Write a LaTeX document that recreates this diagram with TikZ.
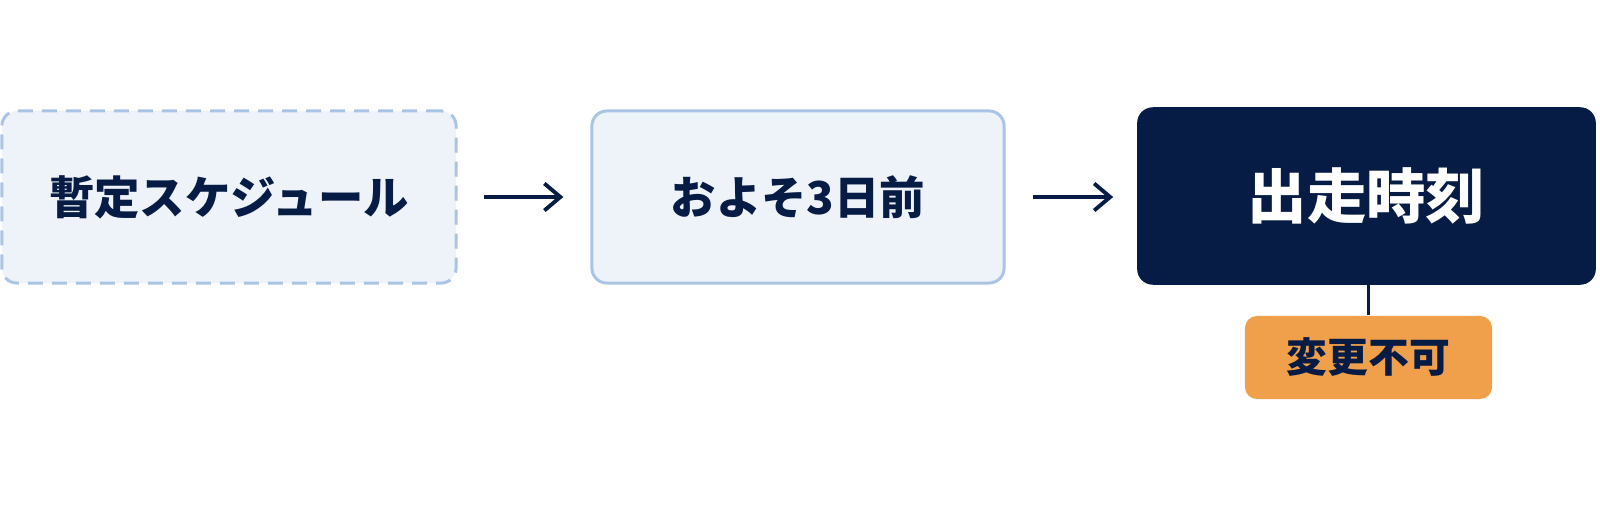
\documentclass[tikz,border=0pt]{standalone}
\usepackage{fontspec}
\setmainfont{Noto Sans CJK JP}
\usetikzlibrary{arrows.meta}
\definecolor{navy}{HTML}{061C45}
\definecolor{paleblue}{HTML}{EEF3FA}
\definecolor{edgeblue}{HTML}{AAC4E4}
\definecolor{amber}{HTML}{F0A04B}

\begin{document}
\begin{tikzpicture}[x=0.01cm, y=-0.01cm,
    etapa/.style={draw=edgeblue, line width=0.85pt, rounded corners=0.15cm, fill=paleblue, inner sep=0pt,
        minimum height=1.72cm, text=navy, font=\bfseries\fontsize{12.9}{15}\selectfont},
    seta/.style={draw=navy, line width=1.1pt, -{Straight Barb[length=1.6mm, width=2.7mm]}}]
    % Do provisório ao horário de largada
    \useasboundingbox (0,0) rectangle (1600,509);
    \node[etapa, dash pattern=on 0.15cm off 0.09cm, minimum width=4.54cm] (prov) at (229,197) {暫定スケジュール};
    \node[etapa, minimum width=4.12cm] (tres) at (798,197) {およそ3日前};
    \node[draw=navy, fill=navy, rounded corners=0.15cm, inner sep=0pt, minimum width=4.57cm, minimum height=1.76cm,
        text=white, font=\bfseries\fontsize{16.9}{19}\selectfont] (hora) at (1366.5,196) {出走時刻};
    \node[fill=amber, rounded corners=0.12cm, inner sep=0pt, minimum width=2.47cm, minimum height=0.83cm,
        text=navy, font=\bfseries\fontsize{11.6}{13}\selectfont] (fixo) at (1368.5,357.5) {変更不可};

    \draw[seta, shorten <=0.26cm, shorten >=0.27cm] (prov.east) -- (tres.west);
    \draw[seta, shorten <=0.27cm, shorten >=0.24cm] (tres.east) -- (hora.west |- tres.east);
    \draw[navy, line width=1.1pt] (fixo.north |- hora.south) -- (fixo.north);
\end{tikzpicture}
\end{document}
